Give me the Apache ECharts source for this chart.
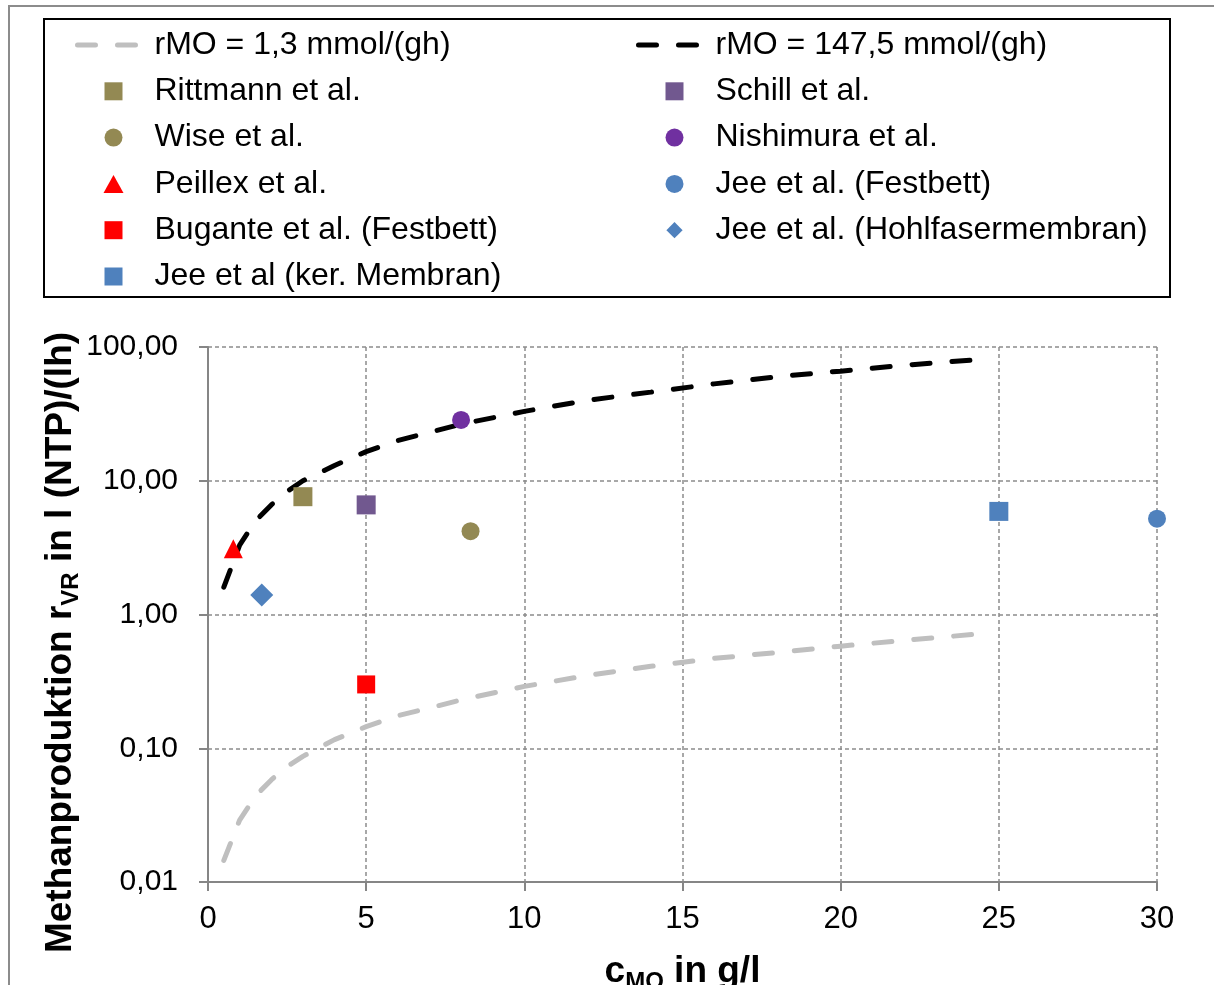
<!DOCTYPE html>
<html>
<head>
<meta charset="utf-8">
<title>Methanproduktion</title>
<script src="https://cdn.jsdelivr.net/npm/echarts@6/dist/echarts.min.js"></script>
<style>
  html, body { margin: 0; padding: 0; background: #fff; }
  #chart { width: 1214px; height: 985px; }
</style>
</head>
<body>
<div id="chart"></div>
<script>
// Werte
const lineX = [0.5, 1, 1.5, 2, 2.5, 3, 4, 5, 6, 7, 8, 10, 12, 14, 16, 18, 20, 22, 24.5];
const rmoLow = [0.0145, 0.029, 0.044, 0.058, 0.073, 0.087, 0.116, 0.145, 0.175, 0.2, 0.23, 0.29, 0.35, 0.41, 0.47, 0.52, 0.58, 0.64, 0.72];
const rmoHigh = [1.6, 3.3, 5.0, 6.6, 8.3, 10, 13, 16.5, 20, 23, 26.5, 33, 40, 46, 53, 60, 66, 73, 81];

const rittmann = [[3, 7.6]];
const schill = [[5, 6.6]];
const wise = [[8.3, 4.2]];
const nishimura = [[8, 28.5]];
const peillex = [[0.8, 3.1]];
const jeeFestbett = [[30, 5.2]];
const bugante = [[5, 0.3]];
const jeeHohlfaser = [[1.7, 1.4]];
const jeeKerMembran = [[25, 5.9]];

const xTicks = [0, 5, 10, 15, 20, 25, 30];

const FONT = '"Liberation Sans", Arial, sans-serif';

// Legenden-Symbole als Pfad, damit das Seitenverhaeltnis erhalten bleibt
const ICON_RECT = 'path://M0,0L10,0L10,10L0,10Z';
const ICON_TRI = 'path://M5,0L10,9L0,9Z';
const ICON_DIAMOND = 'path://M0,0M20,20M10,1L19,10L10,19L1,10Z';

const chart = echarts.init(document.getElementById('chart'), null, { renderer: 'canvas' });

function dashed(name, values, color) {
  return {
    name: name,
    type: 'line',
    data: lineX.map((x, i) => [x, values[i]]),
    symbol: 'none',
    z: 2,
    lineStyle: { color: color, width: 5, type: [18, 22], cap: 'round' },
    itemStyle: { color: 'rgba(0,0,0,0)' }
  };
}

function points(name, data, symbol, size, color) {
  return {
    name: name,
    type: 'scatter',
    data: data,
    symbol: symbol,
    symbolSize: size,
    z: 3,
    itemStyle: { color: color, opacity: 1 }
  };
}

const legendBase = {
  orient: 'vertical',
  top: 29,
  padding: 0,
  itemWidth: 72,
  itemHeight: 18,
  itemGap: 14.3,
  selectedMode: false,
  lineStyle: { width: 5 },
  textStyle: { fontSize: 32, color: '#000', fontFamily: FONT, lineHeight: 32 }
};

const lineItem = name => ({ name: name, itemStyle: { opacity: 0 } });

const nameRich = {
  b: { fontSize: 37, fontWeight: 'bold', color: '#000', fontFamily: FONT, lineHeight: 44 },
  s: { fontSize: 24, fontWeight: 'bold', color: '#000', fontFamily: FONT, verticalAlign: 'bottom', lineHeight: 24 }
};

const option = {
  animation: false,
  backgroundColor: '#fff',
  textStyle: { fontFamily: FONT },
  graphic: [
    {
      type: 'rect',
      shape: { x: 9, y: 6, width: 1400, height: 1200 },
      style: { fill: null, stroke: '#8c8c8c', lineWidth: 2 },
      silent: true
    },
    {
      type: 'rect',
      shape: { x: 44, y: 19, width: 1126, height: 278 },
      style: { fill: null, stroke: '#000', lineWidth: 2 },
      silent: true
    }
  ],
  legend: [
    Object.assign({}, legendBase, {
      left: 75,
      data: [
        lineItem('rMO = 1,3 mmol/(gh)'),
        { name: 'Rittmann et al.', icon: ICON_RECT },
        { name: 'Wise et al.', icon: 'circle' },
        { name: 'Peillex et al.', icon: ICON_TRI },
        { name: 'Bugante et al. (Festbett)', icon: ICON_RECT },
        { name: 'Jee et al (ker. Membran)', icon: ICON_RECT }
      ]
    }),
    Object.assign({}, legendBase, {
      left: 636,
      data: [
        lineItem('rMO = 147,5 mmol/(gh)'),
        { name: 'Schill et al.', icon: ICON_RECT },
        { name: 'Nishimura et al.', icon: 'circle' },
        { name: 'Jee et al. (Festbett)', icon: 'circle' },
        { name: 'Jee et al. (Hohlfasermembran)', icon: ICON_DIAMOND }
      ]
    })
  ],
  grid: { left: 208, right: 57, top: 347, bottom: 103, containLabel: false, outerBoundsMode: 'none' },
  xAxis: {
    type: 'value',
    min: 0,
    max: 30,
    interval: 5,
    name: '{b|c}{s|MO}{b| in g/l}',
    nameLocation: 'middle',
    nameGap: 68,
    nameMoveOverlap: false,
    nameTextStyle: { rich: nameRich },
    axisLine: { lineStyle: { color: '#868686', width: 2 } },
    axisTick: { show: true, inside: false, length: 9, lineStyle: { color: '#868686', width: 2 } },
    axisLabel: {
      fontSize: 31,
      color: '#000',
      margin: 22,
      formatter: v => xTicks.indexOf(v) >= 0 ? String(v) : ''
    },
    splitLine: { show: true, lineStyle: { color: '#8c8c8c', width: 1.5, type: [4, 3] } }
  },
  yAxis: {
    type: 'log',
    logBase: 10,
    min: 0.01,
    max: 100,
    name: '{b|Methanproduktion r}{s|VR}{b| in l (NTP)/(lh)}',
    nameLocation: 'middle',
    nameGap: 125,
    nameRotate: 90,
    nameMoveOverlap: false,
    nameTextStyle: {
      padding: [0, 56, 0, 0],
      rich: nameRich
    },
    axisLine: { show: true, lineStyle: { color: '#868686', width: 2 } },
    axisTick: { show: true, inside: false, length: 9, lineStyle: { color: '#868686', width: 2 } },
    minorTick: { show: false },
    axisLabel: {
      fontSize: 30,
      color: '#000',
      margin: 30,
      formatter: v => Number(v).toFixed(2).replace('.', ',')
    },
    splitLine: { show: true, lineStyle: { color: '#8c8c8c', width: 1.5, type: [4, 3] } }
  },
  series: [
    dashed('rMO = 1,3 mmol/(gh)', rmoLow, '#bfbfbf'),
    dashed('rMO = 147,5 mmol/(gh)', rmoHigh, '#000000'),
    points('Rittmann et al.', rittmann, 'rect', 19, '#938953'),
    points('Schill et al.', schill, 'rect', 19, '#71588f'),
    points('Wise et al.', wise, 'circle', 18, '#938953'),
    points('Nishimura et al.', nishimura, 'circle', 18, '#7030a0'),
    points('Peillex et al.', peillex, 'triangle', 19, '#ff0000'),
    points('Jee et al. (Festbett)', jeeFestbett, 'circle', 18, '#4f81bd'),
    points('Bugante et al. (Festbett)', bugante, 'rect', 18, '#ff0000'),
    points('Jee et al. (Hohlfasermembran)', jeeHohlfaser, 'diamond', 23, '#4f81bd'),
    points('Jee et al (ker. Membran)', jeeKerMembran, 'rect', 19, '#4f81bd')
  ]
};

chart.setOption(option);
</script>
</body>
</html>
